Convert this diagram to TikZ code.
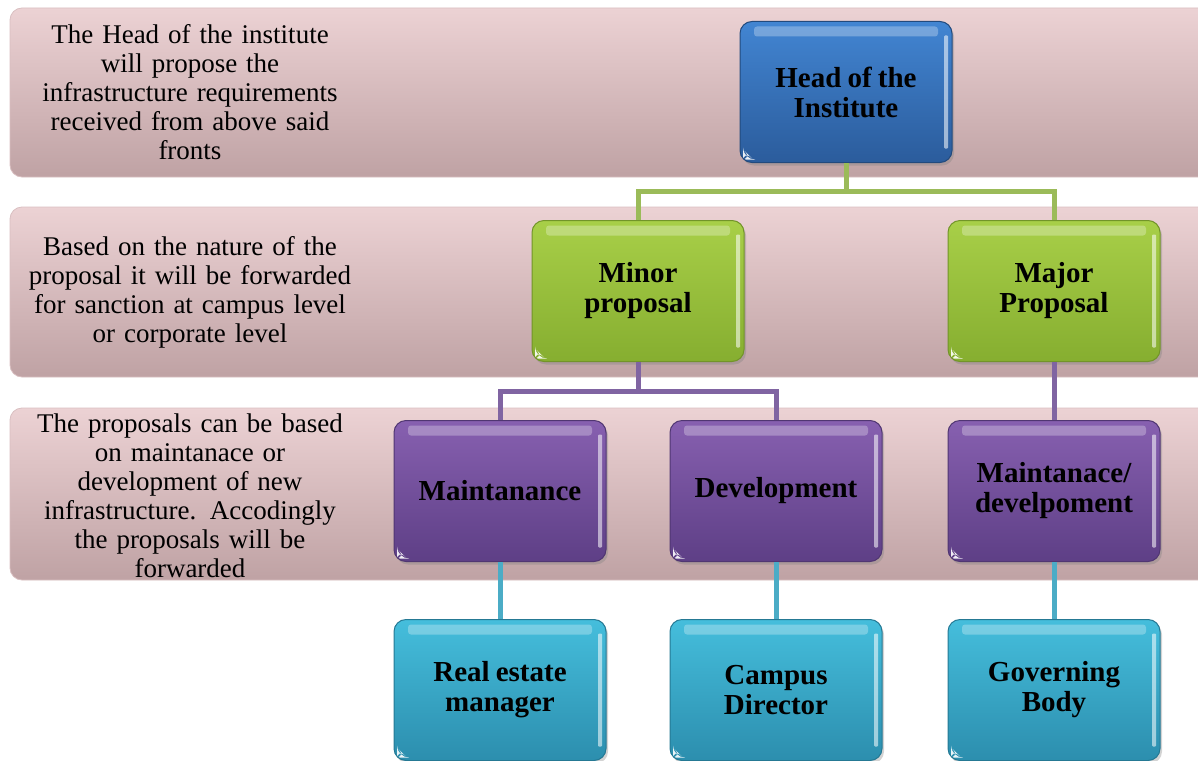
\documentclass[tikz,border=0pt]{standalone}
\usepackage{fontspec}
\setmainfont{Liberation Serif}[WordSpace=0.85]
\usetikzlibrary{shadows}
\definecolor{bandtop}{HTML}{ECD2D4}
\definecolor{bandbot}{HTML}{BFA2A4}
\definecolor{bandline}{HTML}{D9BFC1}
\definecolor{bluetop}{HTML}{4285D2}
\definecolor{bluebot}{HTML}{2B5C9C}
\definecolor{greentop}{HTML}{A8CF48}
\definecolor{greenbot}{HTML}{86AE30}
\definecolor{purpletop}{HTML}{8760B0}
\definecolor{purplebot}{HTML}{5E3F86}
\definecolor{tealtop}{HTML}{45BEDC}
\definecolor{tealbot}{HTML}{2C8EAE}
\definecolor{greenline}{HTML}{9BBB59}
\definecolor{purpleline}{HTML}{8064A2}
\definecolor{tealline}{HTML}{4BACC6}
\tikzset{
  band/.style={rounded corners=12pt, top color=bandtop, bottom color=bandbot, draw=bandline, line width=0.8pt},
  bandtext/.style={align=center, font=\fontsize{27}{29}\selectfont, text width=340pt},
  box/.style={rounded corners=12pt, minimum width=212pt, minimum height=141pt, inner sep=4pt,
     align=center, font=\fontsize{29}{30}\selectfont\bfseries, line width=1pt,
     drop shadow={shadow xshift=2pt, shadow yshift=-3pt, opacity=0.35},
     path picture={
       \fill[white,opacity=0.28,rounded corners=3pt]
         ([xshift=14pt,yshift=-5pt]path picture bounding box.north west) rectangle
         ([xshift=-14pt,yshift=-15pt]path picture bounding box.north east);
       \fill[white,opacity=0.55,rounded corners=1pt]
         ([xshift=-8pt,yshift=-14pt]path picture bounding box.north east) rectangle
         ([xshift=-4pt,yshift=14pt]path picture bounding box.south east);
       \fill[white,opacity=0.9]
         ([xshift=3pt,yshift=3pt]path picture bounding box.south west) --
         ([xshift=13pt,yshift=3pt]path picture bounding box.south west) --
         ([xshift=3pt,yshift=13pt]path picture bounding box.south west) -- cycle;
     }},
  bluebox/.style={box, top color=bluetop, bottom color=bluebot, draw=bluebot!80!black},
  greenbox/.style={box, top color=greentop, bottom color=greenbot, draw=greenbot!85!black},
  purplebox/.style={box, top color=purpletop, bottom color=purplebot, draw=purplebot!85!black},
  tealbox/.style={box, top color=tealtop, bottom color=tealbot, draw=tealbot!85!black},
  conn/.style={line width=5pt}
}
\begin{document}
\begin{tikzpicture}[x=1pt,y=-1pt]
\useasboundingbox (0,0) rectangle (1198,760);
% bands
\draw[band] (10,8) rectangle (1215,177);
\draw[band] (10,207) rectangle (1215,377);
\draw[band] (10,408) rectangle (1215,580);
\node[bandtext] (t1) at (190,92) {The Head of the institute\\will propose the\\infrastructure requirements\\received from above said\\fronts};
\node[bandtext] (t2) at (190,292) {Based on the nature of the\\proposal it will be forwarded\\for sanction at campus level\\or corporate level};
\node[bandtext] (t3) at (190,496) {The proposals can be based\\on maintanace or\\development of new\\infrastructure. Accodingly\\the proposals will be\\forwarded};
% boxes
\node[bluebox] (head) at (846,92) {Head of the\\Institute};
\node[greenbox] (minor) at (638,291) {Minor\\proposal};
\node[greenbox] (major) at (1054,291) {Major\\Proposal};
\node[purplebox] (maint) at (500,491) {Maintanance};
\node[purplebox] (dev) at (776,491) {Development};
\node[purplebox] (md) at (1054,491) {Maintanace/\\develpoment};
\node[tealbox] (re) at (500,690) {Real estate\\manager};
\node[tealbox] (cd) at (776,690) {Campus\\Director};
\node[tealbox] (gb) at (1054,690) {Governing\\Body};
% connectors
\coordinate (bus1) at (846,191);
\coordinate (bus2) at (638,391);
\draw[conn, greenline] (head.south) -- (bus1);
\draw[conn, greenline] (bus1) -| (minor.north);
\draw[conn, greenline] (bus1) -| (major.north);
\draw[conn, purpleline] (minor.south) -- (bus2);
\draw[conn, purpleline] (bus2) -| (maint.north);
\draw[conn, purpleline] (bus2) -| (dev.north);
\draw[conn, purpleline] (major.south) -- (md.north);
\draw[conn, tealline] (maint.south) -- (re.north);
\draw[conn, tealline] (dev.south) -- (cd.north);
\draw[conn, tealline] (md.south) -- (gb.north);
\end{tikzpicture}
\end{document}
